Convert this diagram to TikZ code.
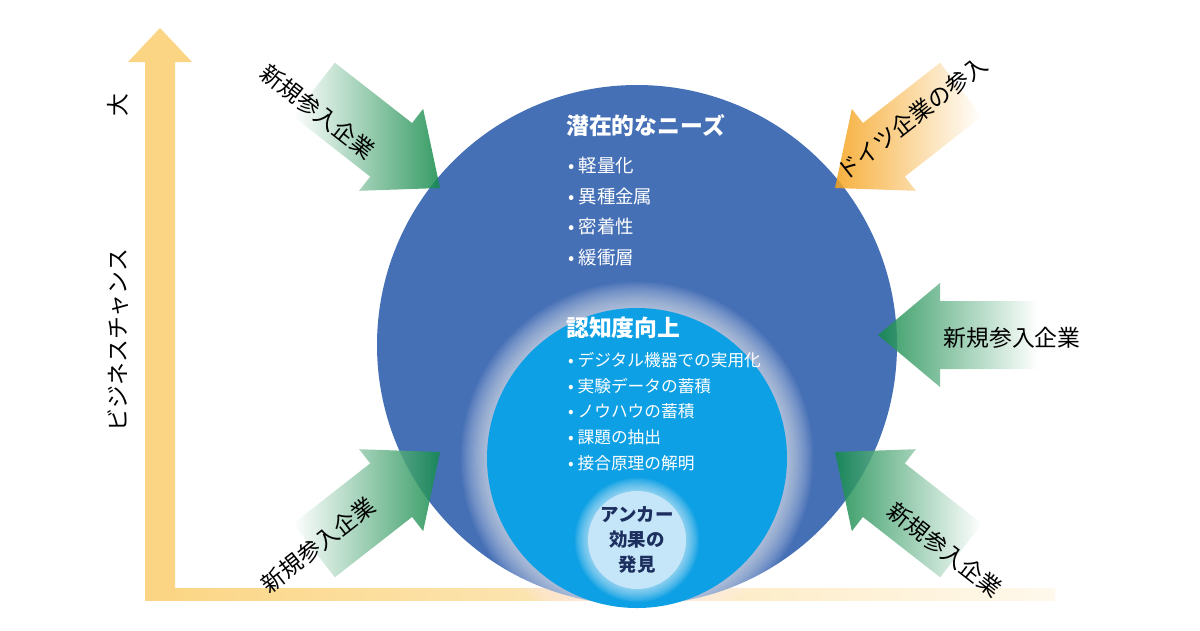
\documentclass[tikz,border=0pt]{standalone}
\usepackage{fontspec}
\setmainfont{Noto Sans CJK JP}
\usetikzlibrary{positioning}
\definecolor{needblue}{HTML}{4670B6}
\definecolor{knowblue}{HTML}{0EA0E4}
\definecolor{anchorblue}{HTML}{C4E6F8}
\definecolor{axisyellow}{HTML}{FBD583}
\definecolor{entgreen}{HTML}{138A4A}
\definecolor{deorange}{HTML}{F5A21B}
\definecolor{navytext}{HTML}{1D2F5E}
\tikzset{
  biglabel/.style={font=\fontsize{13}{15}\selectfont, text=black},
  needtitle/.style={font=\bfseries\fontsize{13}{15}\selectfont, text=white, anchor=west},
  needitem/.style={font=\fontsize{10.5}{12}\selectfont, text=white, anchor=west},
  knowitem/.style={font=\fontsize{9.5}{11}\selectfont, text=white, anchor=west},
}
% arrow pointing to local +x, tip at origin
\newcommand\EntryArrow[4]{%
\begin{scope}[shift={#1},rotate=#2]
  \shade[left color=#3,right color=#4,opacity=0.85]
    (-160,-34) -- (-62,-34) -- (-62,-52) -- (0,0) -- (-62,52) -- (-62,34) -- (-160,34) -- cycle;
\end{scope}
}
\begin{document}
\begin{tikzpicture}[x=0.02cm,y=-0.02cm]
  \useasboundingbox (0,0) rectangle (1200,630);

  % axes
  \shade[left color=axisyellow,right color=axisyellow!15] (145,588) rectangle (1055,600);
  \fill[axisyellow] (145,600) -- (145,62) -- (128,62) -- (160,28) -- (192,62) -- (175,62) -- (175,600) -- cycle;
  \node[biglabel,rotate=90] (big) at (118,105) {大};
  \node[biglabel,rotate=90] (chance) at (118,340) {ビジネスチャンス};

  % circles
  \fill[needblue] (637,345) circle (260);
  \foreach \i in {0,...,24}
    \fill[white,opacity=0.035] (637,458) circle ({150+\i*1.1});
  \fill[knowblue] (637,458) circle (150);
  \foreach \i in {0,...,12}
    \fill[white,opacity=0.06] (637,540) circle ({49+\i*1.1});
  \fill[anchorblue] (637,540) circle (49);

  % needs
  \node[needtitle] (needs) at (560,126) {潜在的なニーズ};
  \node[needitem] (n1) at (562,165) {• 軽量化};
  \node[needitem] (n2) at (562,196) {• 異種金属};
  \node[needitem] (n3) at (562,226) {• 密着性};
  \node[needitem] (n4) at (562,258) {• 緩衝層};

  % awareness
  \node[needtitle] (know) at (560,328) {認知度向上};
  \node[knowitem] (k1) at (562,360) {• デジタル機器での実用化};
  \node[knowitem] (k2) at (562,386) {• 実験データの蓄積};
  \node[knowitem] (k3) at (562,411) {• ノウハウの蓄積};
  \node[knowitem] (k4) at (562,437) {• 課題の抽出};
  \node[knowitem] (k5) at (562,463) {• 接合原理の解明};

  \node[font=\bfseries\fontsize{10.5}{14}\selectfont, text=navytext, align=center] (anchor) at (637,540) {アンカー\\効果の\\発見};

  % entrant arrows
  \EntryArrow{(440,188)}{-38}{white}{entgreen}
  \EntryArrow{(835,188)}{-142}{deorange}{white}
  \EntryArrow{(878,335)}{180}{entgreen}{white}
  \EntryArrow{(440,452)}{38}{white}{entgreen}
  \EntryArrow{(835,452)}{142}{entgreen}{white}

  \node[biglabel,rotate=-38] (ent1) at (318,112) {新規参入企業};
  \node[biglabel,rotate=38] (de) at (912,118) {ドイツ企業の参入};
  \node[biglabel] (ent2) at (1012,338) {新規参入企業};
  \node[biglabel,rotate=38] (ent3) at (318,545) {新規参入企業};
  \node[biglabel,rotate=-38] (ent4) at (945,550) {新規参入企業};
\end{tikzpicture}
\end{document}
